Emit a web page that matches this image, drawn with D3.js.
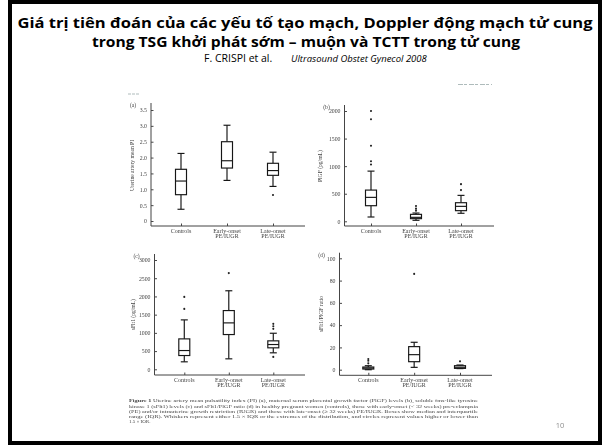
<!DOCTYPE html>
<html lang="vi">
<head>
<meta charset="UTF-8">
<title>Crispi 2008 - box plots</title>
<script src="https://d3js.org/d3.v7.min.js"></script>
<style>
  html, body { margin: 0; padding: 0; background: #fff; }
  #chart { position: relative; width: 605px; height: 445px; }
  #chart svg { display: block; position: absolute; left: 0; top: 0; }
  #frame {
    position: absolute; left: 8px; top: 0px;
    width: 586px; height: 437px;
    border: 4px solid #000;
    pointer-events: none;
  }
  .head text { font-family: "Open Sans", "Noto Sans", sans-serif; fill: #000; }
  .fig text { font-family: "Liberation Serif", "DejaVu Serif", serif; fill: #444; }
</style>
</head>
<body>
<div id="chart"><div id="frame"></div></div>
<script>
const groups = ["Controls", "Early-onset\nPE/IUGR", "Late-onset\nPE/IUGR"];

// each box: [low whisker, Q1, median, Q3, high whisker]
const piBoxes = [[0.37, 0.83, 1.26, 1.63, 2.13], [1.28, 1.67, 1.9, 2.5, 3.02], [1.09, 1.44, 1.59, 1.82, 2.17]];
const piOutliers = [[], [], [0.82]];
const piTicks = [0, 0.5, 1, 1.5, 2, 2.5, 3, 3.5];

const plgfBoxes = [[78, 283, 434, 566, 910], [18, 48, 72, 126, 150], [145, 193, 271, 337, 470]];
const plgfOutliers = [[2000, 1850, 1370, 1090, 1030], [277, 229, 193], [674, 566]];
const plgfTicks = [0, 500, 1000, 1500, 2000];

const sflt1Boxes = [[205, 378, 515, 835, 1356], [287, 954, 1274, 1612, 2155], [452, 589, 680, 781, 990]];
const sflt1Outliers = [[1987, 1658], [2640], [1247, 1183, 1110, 341]];
const sflt1Ticks = [0, 500, 1000, 1500, 2000, 2500, 3000];

const ratioBoxes = [[0, 0.6, 1.5, 2.4, 3.6], [2.1, 7.2, 13.5, 20.7, 24.6], [1, 1.2, 2.2, 3.6, 4.2]];
const ratioOutliers = [[9.6, 8.1, 5.7], [86], [7.5]];
const ratioTicks = [0, 20, 40, 60, 80, 100];

const titleLines = ["Giá trị tiên đoán của các yếu tố tạo mạch, Doppler động mạch tử cung",
                    "trong TSG khởi phát sớm – muộn và TCTT trong tử cung"];
const captionLines = [
  "Figure 1 Uterine artery mean pulsatility index (PI) (a), maternal serum placental growth factor (PlGF) levels (b), soluble fms-like tyrosine",
  "kinase 1 (sFlt1) levels (c) and sFlt1/PlGF ratio (d) in healthy pregnant women (controls), those with early-onset (< 32 weeks) pre-eclampsia",
  "(PE) and/or intrauterine growth restriction (IUGR) and those with late-onset (≥ 32 weeks) PE/IUGR. Boxes show median and interquartile",
  "range (IQR). Whiskers represent either 1.5 × IQR or the extremes of the distribution, and circles represent values higher or lower than",
  "1.5 × IQR."
];

const W = 605, H = 445;
const svg = d3.select("#chart").insert("svg", "#frame")
    .attr("width", W)
    .attr("height", H);

const defs = svg.append("defs");
defs.append("filter").attr("id", "soft")
  .append("feGaussianBlur").attr("stdDeviation", 0.32);
defs.append("clipPath").attr("id", "figclip")
  .append("rect").attr("x", 0).attr("y", 80).attr("width", W).attr("height", 342.5);

// heading
const head = svg.append("g").attr("class", "head");
head.append("text")
    .attr("x", 305).attr("y", 27.5)
    .attr("text-anchor", "middle")
    .attr("font-size", 15).attr("font-weight", "bold")
    .attr("textLength", 575).attr("lengthAdjust", "spacingAndGlyphs")
    .text(titleLines[0]);
head.append("text")
    .attr("x", 306).attr("y", 47)
    .attr("text-anchor", "middle")
    .attr("font-size", 15).attr("font-weight", "bold")
    .attr("textLength", 428).attr("lengthAdjust", "spacingAndGlyphs")
    .text(titleLines[1]);
head.append("text")
    .attr("x", 204).attr("y", 62)
    .attr("font-size", 10.5)
    .text("F. CRISPI et al.");
head.append("text")
    .attr("x", 291).attr("y", 62)
    .attr("font-size", 9.5).attr("font-style", "italic")
    .text("Ultrasound Obstet Gynecol 2008");

// figure (slightly soft, like a scanned image)
const fig = svg.append("g")
    .attr("class", "fig")
    .attr("clip-path", "url(#figclip)")
  .append("g")
    .attr("filter", "url(#soft)");

// remnants of the journal header at the top of the scan
fig.append("line").attr("x1", 128).attr("x2", 140).attr("y1", 94).attr("y2", 94)
    .attr("stroke", "#9aa").attr("stroke-width", 0.8).attr("stroke-dasharray", "3,1");
fig.append("line").attr("x1", 458).attr("x2", 492).attr("y1", 84.5).attr("y2", 84.5)
    .attr("stroke", "#9aa").attr("stroke-width", 0.8).attr("stroke-dasharray", "5,1,3,2");

const panels = [
  { tag: "(a)", label: "Uterine artery mean PI", boxes: piBoxes, outliers: piOutliers, ticks: piTicks,
    fmt: d => d === 0 ? "0" : d.toFixed(1),
    axisX: 151, axisY: 226, top: 103, right: 305, yRange: [221, 110], xRange: [181, 273], labelX: 132 },
  { tag: "(b)", label: "PlGF (pg/mL)", boxes: plgfBoxes, outliers: plgfOutliers, ticks: plgfTicks,
    fmt: d3.format("d"),
    axisX: 344.5, axisY: 226, top: 105, right: 494, yRange: [221.3, 111], xRange: [371, 461], labelX: 320 },
  { tag: "(c)", label: "sFlt1 (pg/mL)", boxes: sflt1Boxes, outliers: sflt1Outliers, ticks: sflt1Ticks,
    fmt: d3.format("d"),
    axisX: 154.5, axisY: 375, top: 254, right: 305, yRange: [369.3, 260], xRange: [184.3, 273.3], labelX: 132.5 },
  { tag: "(d)", label: "sFlt1/PlGF ratio", boxes: ratioBoxes, outliers: ratioOutliers, ticks: ratioTicks,
    fmt: d3.format("d"),
    axisX: 339.5, axisY: 375.3, top: 252.7, right: 492, yRange: [369.7, 258.3], xRange: [368.3, 460], labelX: 320.5 }
];

const ink = "#151515";

panels.forEach(p => {
  const y = d3.scaleLinear().domain([d3.min(p.ticks), d3.max(p.ticks)]).range(p.yRange);
  const x = d3.scalePoint().domain(groups).range(p.xRange);
  const g = fig.append("g");

  // y axis with inward ticks
  const ya = g.append("g")
      .attr("transform", `translate(${p.axisX},0)`)
      .call(d3.axisLeft(y).tickValues(p.ticks).tickFormat(p.fmt)
        .tickSizeInner(-2.5).tickSizeOuter(0).tickPadding(4));
  ya.select(".domain").remove();
  ya.selectAll(".tick line").attr("stroke", "#333").attr("stroke-width", 0.9);
  ya.selectAll(".tick text").attr("font-size", 5.8).attr("font-family", null).attr("fill", "#555");

  // x axis with inward ticks
  const xa = g.append("g")
      .attr("transform", `translate(0,${p.axisY})`)
      .call(d3.axisBottom(x).tickFormat("").tickSizeInner(-2.5).tickSizeOuter(0));
  xa.select(".domain").remove();
  xa.selectAll(".tick line").attr("stroke", "#333").attr("stroke-width", 0.9);

  g.append("line")
      .attr("x1", p.axisX).attr("x2", p.axisX)
      .attr("y1", p.top).attr("y2", p.axisY)
      .attr("stroke", "#444").attr("stroke-width", 1);
  g.append("line")
      .attr("x1", p.axisX).attr("x2", p.right)
      .attr("y1", p.axisY).attr("y2", p.axisY)
      .attr("stroke", "#444").attr("stroke-width", 1);

  // category labels
  groups.forEach(name => {
    const t = g.append("text")
        .attr("x", x(name)).attr("y", p.axisY + 6.5)
        .attr("text-anchor", "middle")
        .attr("font-size", 6).attr("fill", "#333");
    name.split("\n").forEach((part, i) => {
      t.append("tspan").attr("x", x(name)).attr("dy", i ? 5.6 : 0).text(part);
    });
  });

  // panel tag and y title
  g.append("text")
      .attr("x", p.axisX - 18).attr("y", p.top + 4)
      .attr("text-anchor", "middle").attr("font-size", 5.6).attr("fill", "#555")
      .text(p.tag);
  const midY = (p.yRange[0] + p.yRange[1]) / 2;
  g.append("text")
      .attr("transform", `translate(${p.labelX + 2},${midY}) rotate(-90)`)
      .attr("text-anchor", "middle").attr("font-size", 5.6).attr("fill", "#444")
      .text(p.label);

  // boxes
  const bw = 11, cw = 7;
  p.boxes.forEach((b, i) => {
    const cx = x(groups[i]);
    const [lo, q1, med, q3, hi] = b;
    const bg = g.append("g").attr("stroke", ink).attr("stroke-width", 1.15).attr("fill", "none");
    bg.append("line").attr("x1", cx).attr("x2", cx).attr("y1", y(lo)).attr("y2", y(q1));
    bg.append("line").attr("x1", cx).attr("x2", cx).attr("y1", y(q3)).attr("y2", y(hi));
    bg.append("line").attr("x1", cx - cw / 2).attr("x2", cx + cw / 2).attr("y1", y(lo)).attr("y2", y(lo));
    bg.append("line").attr("x1", cx - cw / 2).attr("x2", cx + cw / 2).attr("y1", y(hi)).attr("y2", y(hi));
    bg.append("rect")
        .attr("x", cx - bw / 2).attr("width", bw)
        .attr("y", y(q3)).attr("height", y(q1) - y(q3))
        .attr("fill", "#fff");
    bg.append("line").attr("x1", cx - bw / 2).attr("x2", cx + bw / 2).attr("y1", y(med)).attr("y2", y(med));

    g.selectAll(null)
      .data(p.outliers[i])
      .enter().append("circle")
        .attr("cx", cx).attr("cy", d => y(d))
        .attr("r", 1.05).attr("fill", "#222");
  });
});

// caption
const cap = fig.append("g");
captionLines.forEach((line, i) => {
  const last = i === captionLines.length - 1;
  const t = cap.append("text")
      .attr("x", 129).attr("y", 402.4 + i * 5.15)
      .attr("font-size", 5).attr("fill", "#3a3a3a");
  if (!last) t.attr("textLength", 349).attr("lengthAdjust", "spacingAndGlyphs");
  if (i === 0) {
    t.append("tspan").attr("font-weight", "bold").text("Figure 1");
    t.append("tspan").text(line.slice(8));
  } else {
    t.text(line);
  }
});

// slide number
svg.append("text")
    .attr("x", 560).attr("y", 428)
    .attr("text-anchor", "middle")
    .attr("font-family", "Open Sans, sans-serif")
    .attr("font-size", 7.5).attr("fill", "#8c8c8c")
    .text("10");

// slide frame inside the svg as well
const frame = svg.append("g").attr("fill", "#000");
frame.append("rect").attr("x", 8).attr("y", 0).attr("width", 594).attr("height", 4);
frame.append("rect").attr("x", 8).attr("y", 441).attr("width", 594).attr("height", 4);
frame.append("rect").attr("x", 8).attr("y", 0).attr("width", 4).attr("height", 445);
frame.append("rect").attr("x", 598).attr("y", 0).attr("width", 4).attr("height", 445);
</script>
</body>
</html>
